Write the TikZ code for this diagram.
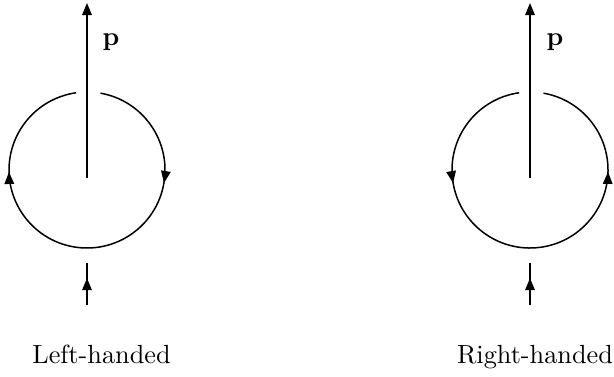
\documentclass[tikz,border=0pt]{standalone}
\usetikzlibrary{arrows.meta,decorations.markings}
\begin{document}
\begin{tikzpicture}[x=1pt,y=1pt,
  ln/.style={line width=0.6pt},
  tipstyle/.style={-{Triangle[length=4.8pt,width=3.8pt]}},
  loopl/.style={ln,postaction={decorate},decoration={markings,
     mark=at position 0.262 with {\arrow{Triangle[length=4.8pt,width=3.8pt]}},
     mark=at position 0.756 with {\arrow{Triangle[length=4.8pt,width=3.8pt]}}}},
  loopr/.style={ln,postaction={decorate},decoration={markings,
     mark=at position 0.268 with {\arrow{Triangle[length=4.8pt,width=3.8pt]}},
     mark=at position 0.762 with {\arrow{Triangle[length=4.8pt,width=3.8pt]}}}},
  midarrow/.style={ln,postaction={decorate},decoration={markings,
     mark=at position 0.64 with {\arrow{Triangle[length=4.8pt,width=3.8pt]}}}},
  lbl/.style={inner sep=0pt,font=\fontsize{10.5}{12}\selectfont}
]
\useasboundingbox (0,0) rectangle (245.6,150.4);
% left
\coordinate (c1) at (34.8,82.4);
\coordinate (c1base) at (34.8,79.2);
\coordinate (c1top) at (34.8,149.2);
\coordinate (c1b0) at (34.8,28.4);
\coordinate (c1b1) at (34.8,45.2);
\draw[ln,tipstyle] (c1base) -- (c1top);
\draw[loopl] (c1) ++(80:31.2) arc[start angle=80, end angle=-262, radius=31.2];
\draw[midarrow] (c1b0) -- (c1b1);
\node[lbl] (p1) at (44.4,133.6) {\textbf{p}};
\node[lbl,anchor=base] (l1) at (40.6,5.2) {Left-handed};
% right
\coordinate (c2) at (212,82.4);
\coordinate (c2base) at (212,79.2);
\coordinate (c2top) at (212,149.2);
\coordinate (c2b0) at (212,28.4);
\coordinate (c2b1) at (212,45.2);
\draw[ln,tipstyle] (c2base) -- (c2top);
\draw[loopr] (c2) ++(98:31.2) arc[start angle=98, end angle=440, radius=31.2];
\draw[midarrow] (c2b0) -- (c2b1);
\node[lbl] (p2) at (222,133.6) {\textbf{p}};
\node[lbl,anchor=base] (l2) at (214,5.2) {Right-handed};
\end{tikzpicture}
\end{document}
